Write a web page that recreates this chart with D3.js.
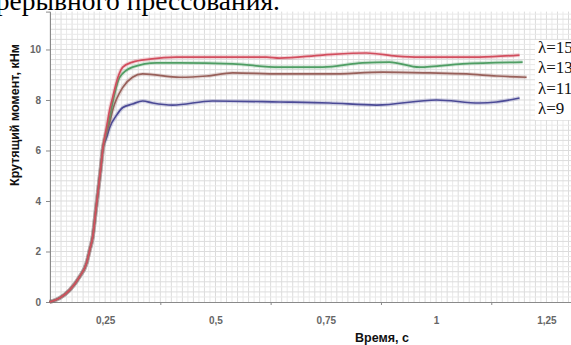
<!DOCTYPE html>
<html>
<head>
<meta charset="utf-8">
<script src="https://cdn.jsdelivr.net/npm/d3@7"></script>
<style>
  body { margin: 0; background: #fff; }
  svg { display: block; }
  .tick text { font-family: Arial, "Liberation Sans", sans-serif; }
</style>
</head>
<body>
<svg width="571" height="345"></svg>
<script>
// common rising part (all curves overlap here)
var riseT = [0.124, 0.147, 0.170, 0.192, 0.208, 0.215, 0.222, 0.228, 0.234, 0.240, 0.245];
var riseV = [0, 0.16, 0.48, 1.0, 1.55, 2.06, 2.6, 3.5, 4.4, 5.3, 6.1];

// lambda = 15
var t15 = [0.253, 0.260, 0.267, 0.279, 0.290, 0.312, 0.351, 0.412, 0.503, 0.616, 0.645, 0.743, 0.842, 0.910, 0.962, 1.098, 1.189];
var v15 = [6.9, 7.6, 8.1, 8.9, 9.3, 9.5, 9.62, 9.7, 9.7, 9.7, 9.66, 9.78, 9.86, 9.74, 9.7, 9.7, 9.78];
// lambda = 13
var t13 = [0.253, 0.260, 0.267, 0.283, 0.312, 0.367, 0.419, 0.539, 0.645, 0.743, 0.833, 0.894, 0.962, 1.060, 1.196];
var v13 = [6.8, 7.3, 7.9, 8.9, 9.3, 9.47, 9.47, 9.43, 9.3, 9.3, 9.47, 9.5, 9.3, 9.43, 9.5];
// lambda = 11
var t11 = [0.253, 0.260, 0.267, 0.290, 0.312, 0.335, 0.419, 0.480, 0.539, 0.645, 0.758, 0.879, 0.985, 1.069, 1.137, 1.205];
var v11 = [6.7, 7.1, 7.6, 8.5, 8.9, 9.03, 8.9, 8.95, 9.07, 9.03, 9.03, 9.1, 9.07, 9.03, 8.95, 8.9];
// lambda = 9
var t9 = [0.253, 0.260, 0.276, 0.290, 0.312, 0.335, 0.358, 0.403, 0.493, 0.645, 0.758, 0.865, 1.001, 1.098, 1.137, 1.189];
var v9 = [6.5, 6.9, 7.4, 7.7, 7.84, 7.96, 7.88, 7.8, 7.96, 7.92, 7.88, 7.8, 8.0, 7.88, 7.92, 8.08];

var seriesNames = ["λ=9", "λ=11", "λ=13", "λ=15"];
var seriesColors = ["#4b4a96", "#98605a", "#4f9e64", "#d24e5e"];

var xTickValues = [0.25, 0.5, 0.75, 1, 1.25];
var xTickLabels = ["0,25", "0,5", "0,75", "1", "1,25"];
var xTickMarks = [0.375, 0.625, 0.875, 1.125];
var yTickValues = [0, 2, 4, 6, 8, 10];

var svg = d3.select("svg");

var x = d3.scaleLinear().domain([0.125, 1.375]).range([50, 601.6]);
var y = d3.scaleLinear().domain([0, 11.5]).range([302, 11.6]);

function pts(ts, vs) {
  var rise = riseT.map(function(t, i) { return [t, riseV[i]]; });
  return rise.concat(ts.map(function(t, i) { return [t, vs[i]]; }));
}
var series = [pts(t9, v9), pts(t11, v11), pts(t13, v13), pts(t15, v15)];

// graph paper grid
var grid = svg.append("g").attr("class", "grid");
grid.selectAll(".gv")
  .data(d3.range(0, 101))
  .enter().append("line")
    .attr("x1", function(i) { return x(0.125 + i * 0.0125); })
    .attr("x2", function(i) { return x(0.125 + i * 0.0125); })
    .attr("y1", y(11.5))
    .attr("y2", y(0))
    .attr("stroke", function(i) { return i % 2 == 0 ? "#dcdcdc" : "#e9e9e9"; })
    .attr("stroke-width", 1);
grid.selectAll(".gh")
  .data(d3.range(1, 58))
  .enter().append("line")
    .attr("x1", x(0.125))
    .attr("x2", 571)
    .attr("y1", function(i) { return y(i * 0.2); })
    .attr("y2", function(i) { return y(i * 0.2); })
    .attr("stroke", function(i) { return i % 2 == 0 ? "#dcdcdc" : "#e9e9e9"; })
    .attr("stroke-width", 1);

// white patch behind the lambda labels
svg.append("rect")
  .attr("x", 535).attr("y", 40)
  .attr("width", 40).attr("height", 80)
  .attr("fill", "#fff");

// axes
var yAxis = svg.append("g")
  .attr("transform", "translate(50,0)")
  .call(d3.axisLeft(y).tickValues(yTickValues).tickSize(4).tickPadding(5));
yAxis.selectAll("text").attr("font-size", "10px").attr("font-weight", "bold").attr("fill", "#666");

var xAxis = svg.append("g")
  .attr("transform", "translate(0,302)")
  .call(d3.axisBottom(x).tickValues(xTickValues).tickSize(0).tickPadding(15)
    .tickFormat(function(d, i) { return xTickLabels[i]; }));
xAxis.selectAll("text").attr("font-size", "10px").attr("font-weight", "bold").attr("fill", "#666");

var xMarks = svg.append("g")
  .attr("transform", "translate(0,302)")
  .call(d3.axisBottom(x).tickValues(xTickMarks).tickSize(3).tickFormat(""));
xMarks.select(".domain").remove();

svg.selectAll(".domain").attr("stroke", "#8a8a8a");
svg.selectAll(".tick line").attr("stroke", "#8a8a8a");

// lines
var line = d3.line()
  .x(function(d) { return x(d[0]); })
  .y(function(d) { return y(d[1]); })
  .curve(d3.curveMonotoneX);

var lines = svg.append("g").attr("class", "lines");
series.forEach(function(s, i) {
  lines.append("path")
    .attr("d", line(s))
    .attr("fill", "none")
    .attr("stroke", seriesColors[i])
    .attr("stroke-opacity", 0.22)
    .attr("stroke-width", 4);
  lines.append("path")
    .attr("d", line(s))
    .attr("fill", "none")
    .attr("stroke", seriesColors[i])
    .attr("stroke-width", 1.7);
});

// lambda labels
var labelY = [114, 94, 73, 53];
svg.selectAll(".lbl")
  .data(seriesNames)
  .enter().append("text")
    .attr("x", 538)
    .attr("y", function(d, i) { return labelY[i]; })
    .attr("font-family", "'Liberation Serif', 'Times New Roman', serif")
    .attr("font-size", "17px")
    .attr("fill", "#111")
    .text(function(d) { return d; });

// axis titles
svg.append("text")
  .attr("transform", "translate(19,115) rotate(-90)")
  .attr("text-anchor", "middle")
  .attr("font-family", "Arial, 'Liberation Sans', sans-serif")
  .attr("font-weight", "bold")
  .attr("font-size", "12.5px")
  .attr("fill", "#111")
  .text("Крутящий момент, кНм");

svg.append("text")
  .attr("x", 382)
  .attr("y", 342)
  .attr("text-anchor", "middle")
  .attr("font-family", "Arial, 'Liberation Sans', sans-serif")
  .attr("font-weight", "bold")
  .attr("font-size", "12.5px")
  .attr("fill", "#111")
  .text("Время, с");

// fragment of the page caption above the chart
svg.append("text")
  .attr("x", 280)
  .attr("y", 9.5)
  .attr("text-anchor", "end")
  .attr("font-family", "'Liberation Serif', 'Times New Roman', serif")
  .attr("font-size", "27.5px")
  .attr("fill", "#000")
  .text("непрерывного прессования.");
</script>
</body>
</html>
